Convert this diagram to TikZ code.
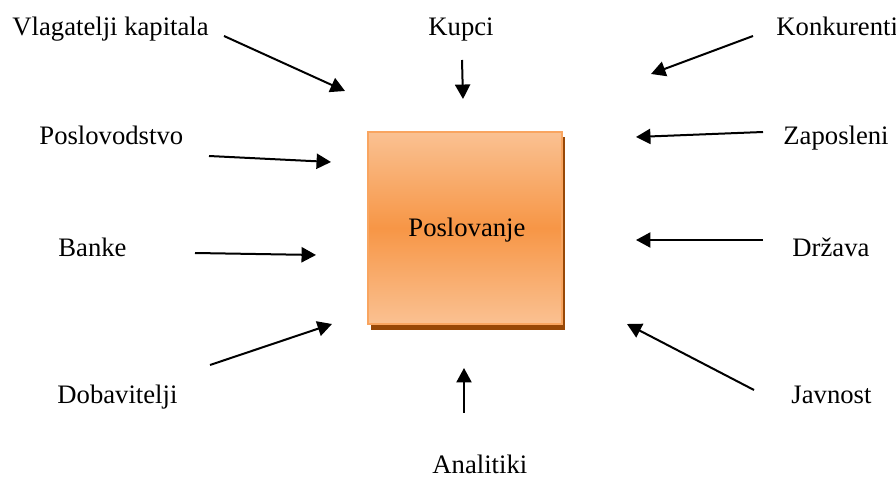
\documentclass[tikz,border=0pt]{standalone}
\usepackage{fontspec}
\setmainfont{Liberation Serif}
\usetikzlibrary{arrows.meta}
\definecolor{boxlight}{HTML}{FAC192}
\definecolor{boxmid}{HTML}{F79646}
\definecolor{boxedge}{HTML}{F9A560}
\definecolor{boxshadow}{HTML}{984807}
\begin{document}
\begin{tikzpicture}[x=0.45pt,y=-0.45pt,
  lbl/.style={anchor=base west,inner sep=0pt,font=\fontsize{12pt}{14pt}\selectfont},
  arr/.style={line width=0.9pt,-{Triangle[length=6.5pt,width=6.8pt]}}]
\useasboundingbox (0,0) rectangle (896,479);
% shadow and box
\fill[boxshadow] (371,137) rectangle (565,330);
\shade[top color=boxlight,bottom color=boxlight,middle color=boxmid] (368,132) rectangle (562,324);
\draw[boxedge,line width=1pt] (368,132) rectangle (562,324);
\node[lbl] (pos) at (408,237) {Poslovanje};
% labels
\node[lbl] (vlag) at (12,36) {Vlagatelji kapitala};
\node[lbl] (posl) at (39,145) {Poslovodstvo};
\node[lbl] (bank) at (58,257) {Banke};
\node[lbl] (doba) at (57,403) {Dobavitelji};
\node[lbl] (kupc) at (428,36) {Kupci};
\node[lbl] (anal) at (432,473) {Analitiki};
\node[lbl] (konk) at (776,36) {Konkurenti};
\node[lbl] (zapo) at (783,145) {Zaposleni};
\node[lbl] (drza) at (792,257) {Država};
\node[lbl] (javn) at (791,403) {Javnost};
% arrow ends
\coordinate (a1s) at (224,36);  \coordinate (a1e) at (345,91);
\coordinate (a2s) at (209,156); \coordinate (a2e) at (331,162);
\coordinate (a3s) at (195,253); \coordinate (a3e) at (316,255);
\coordinate (a4s) at (210,365); \coordinate (a4e) at (332,324);
\coordinate (a5s) at (462,60);  \coordinate (a5e) at (463,99);
\coordinate (a6s) at (464,413); \coordinate (a6e) at (464,368);
\coordinate (a7s) at (753,36);  \coordinate (a7e) at (651,74);
\coordinate (a8s) at (763,132); \coordinate (a8e) at (636,137);
\coordinate (a9s) at (763,240); \coordinate (a9e) at (636,240);
\coordinate (a10s) at (754,390); \coordinate (a10e) at (627,324);
\foreach \i in {1,...,10} \draw[arr] (a\i s) -- (a\i e);
\end{tikzpicture}
\end{document}
